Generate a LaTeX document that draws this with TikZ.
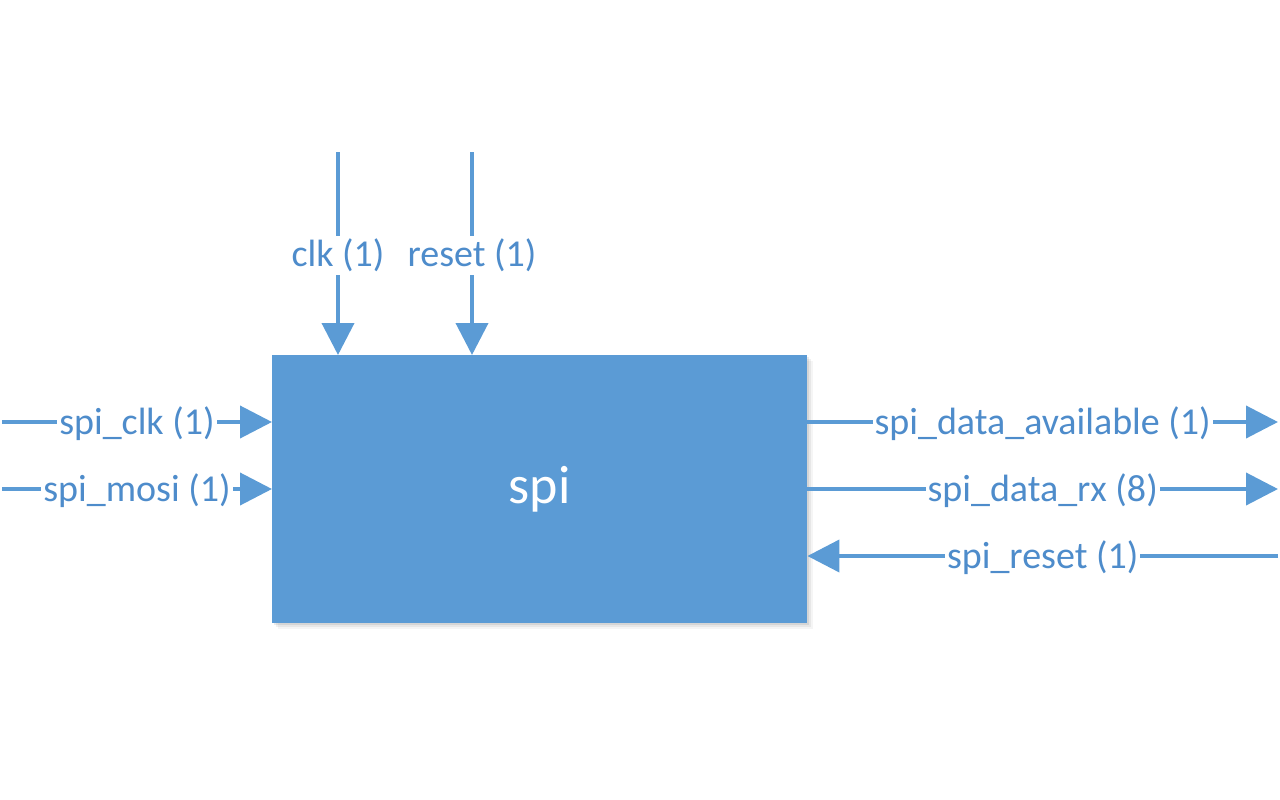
\documentclass[tikz,border=0pt]{standalone}
\usepackage{fontspec}
\setmainfont{Carlito}
\usetikzlibrary{arrows.meta}
\definecolor{blu}{HTML}{5B9BD5}
\definecolor{txt}{HTML}{4E8CCB}
\begin{document}
\begin{tikzpicture}[x=1pt,y=-1pt,
  wire/.style={draw=blu, line width=4pt},
  arr/.style={wire, -{Triangle[length=32pt,width=32pt]}},
  lbl/.style={fill=white, text=txt, font=\fontsize{38}{42}\selectfont, inner xsep=2pt, inner ysep=3pt, yshift=-2pt},
  block/.style={fill=blu, inner sep=0pt, minimum width=535pt, minimum height=268pt, text=white, font=\fontsize{54}{60}\selectfont}]
\useasboundingbox (0,0) rectangle (1280,800);
% soft shadow
\foreach \d/\o in {6/0.04,4/0.06,2/0.08}{
  \fill[black, opacity=\o] (272+\d,355+\d) rectangle (807+\d,623+\d);
}
\node[block, anchor=north west] (spi) at (272,355) {spi};
% free ends
\coordinate (lin1) at (2,422);
\coordinate (lin2) at (2,489);
\coordinate (top1) at (338,152);
\coordinate (top2) at (472,152);
\coordinate (rout1) at (1278,422);
\coordinate (rout2) at (1278,489);
\coordinate (rin3) at (1278,556);
% connectors
\draw[arr] (lin1) -- (spi.west |- lin1) node[lbl, pos=0.5] {spi\_clk (1)};
\draw[arr] (lin2) -- (spi.west |- lin2) node[lbl, pos=0.5] {spi\_mosi (1)};
\draw[arr] (top1) -- (spi.north -| top1) node[lbl, pos=0.5] {clk (1)};
\draw[arr] (top2) -- (spi.north -| top2) node[lbl, pos=0.5] {reset (1)};
\draw[arr] (spi.east |- rout1) -- (rout1) node[lbl, pos=0.5] {spi\_data\_available (1)};
\draw[arr] (spi.east |- rout2) -- (rout2) node[lbl, pos=0.5] {spi\_data\_rx (8)};
\draw[arr] (rin3) -- (spi.east |- rin3) node[lbl, pos=0.5] {spi\_reset (1)};
\end{tikzpicture}
\end{document}
